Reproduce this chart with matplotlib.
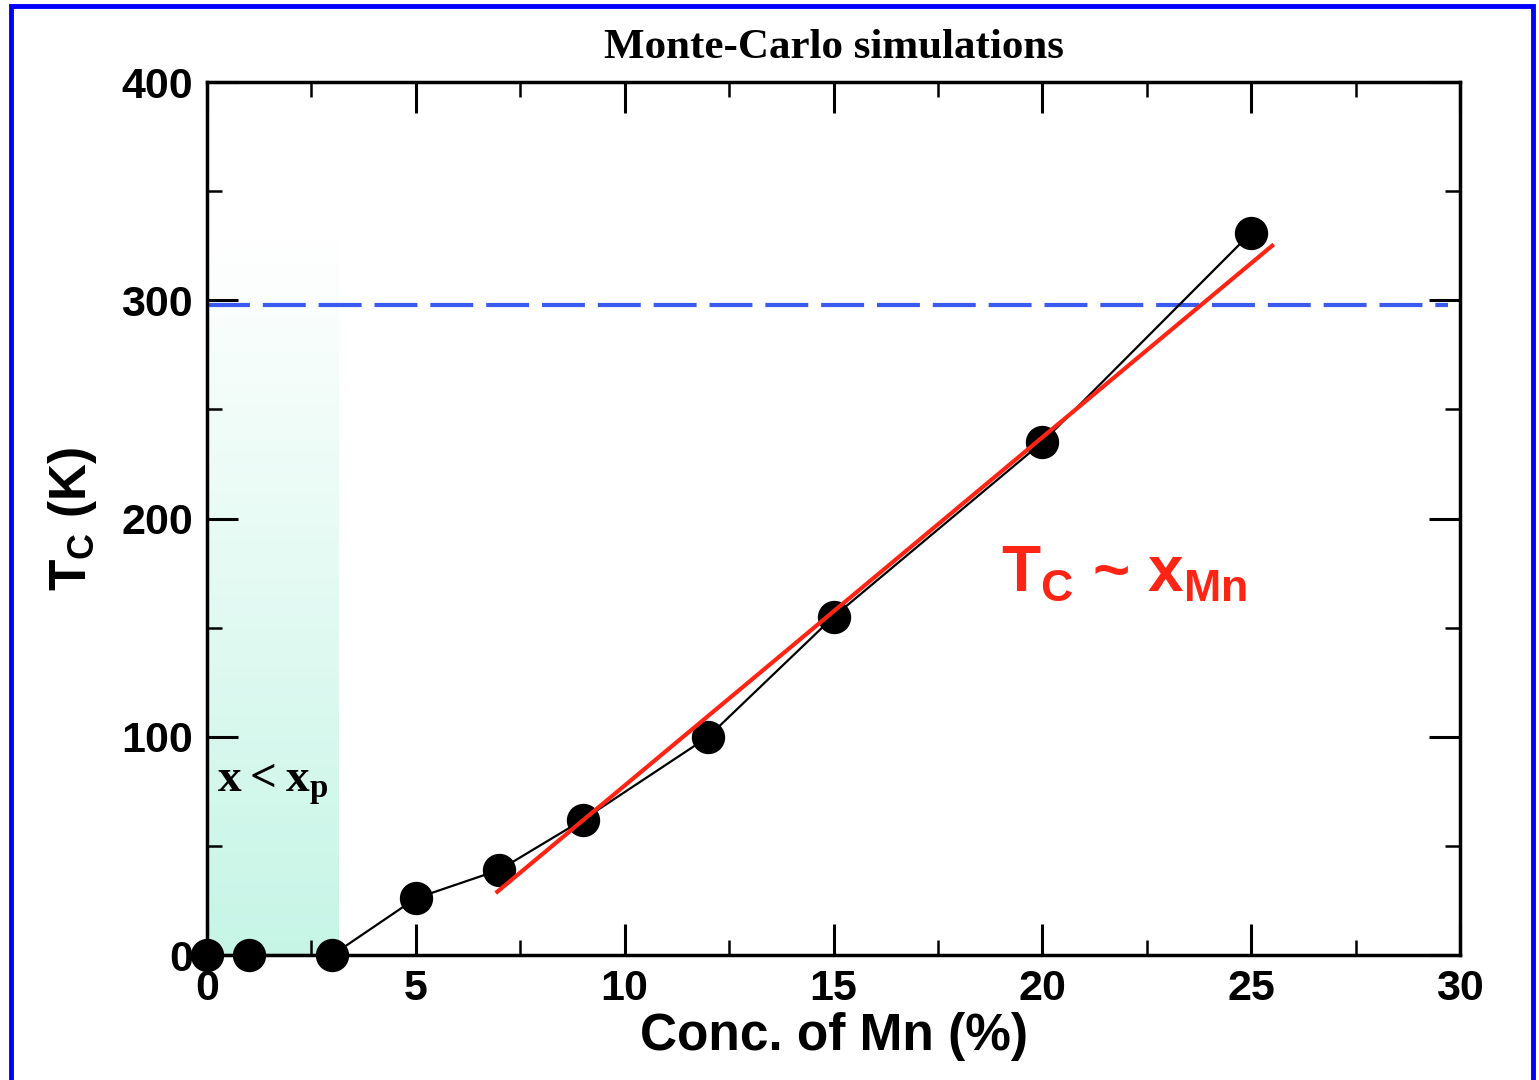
import matplotlib.pyplot as plt
import numpy as np
from matplotlib.colors import LinearSegmentedColormap
from matplotlib.patches import Rectangle

conc = [0, 1, 3, 5, 7, 9, 12, 15, 20, 25]
tc = [0, 0, 0, 26, 39, 62, 100, 155, 235, 331]

fit_x = [6.95, 25.5]
fit_y = [29, 325]

room_temp = 298
perc_x = 3.15
perc_top = 328

fig = plt.figure(figsize=(15.39, 10.8), dpi=100)
ax = fig.add_axes([0.1345, 0.1157, 0.8142, 0.8083])

# shaded region x < x_p with vertical gradient
cmap = LinearSegmentedColormap.from_list('shade', ['#c6f5e6', '#ffffff'])
grad = np.linspace(0, 1, 256).reshape(-1, 1)
ax.imshow(grad, cmap=cmap, origin='lower', aspect='auto',
          extent=[0, perc_x, 0, perc_top], zorder=0)

ax.axhline(room_temp, xmin=0, xmax=29.7 / 30, color='#3a5af0', lw=3,
           dashes=(10.3, 3.1), zorder=1)

ax.plot(conc, tc, color='black', lw=1.6, marker='o', markersize=23,
        clip_on=False, zorder=3)
ax.plot(fit_x, fit_y, color='#ff2414', lw=3, zorder=4)

ax.set_xlim(0, 30)
ax.set_ylim(0, 400)
ax.set_xticks(range(0, 31, 5))
ax.set_yticks(range(0, 401, 100))
ax.set_xticks(np.arange(2.5, 30, 5), minor=True)
ax.set_yticks(range(50, 400, 100), minor=True)
ax.tick_params(which='both', direction='in', top=True, right=True)
ax.tick_params(which='major', length=22, width=2.2, pad=10,
               labelsize=31)
ax.tick_params(which='minor', length=11, width=1.8)
for lab in ax.get_xticklabels() + ax.get_yticklabels():
    lab.set_fontfamily('Liberation Sans')
    lab.set_fontweight('bold')
for sp in ax.spines.values():
    sp.set_linewidth(2.5)

ax.set_xlabel('Conc. of Mn (%)', fontsize=37, fontweight='bold',
              family='Liberation Sans', labelpad=2)
ax.set_ylabel(r'$\mathregular{T_C}$ (K)', fontsize=37, fontweight='bold',
              family='Liberation Sans', labelpad=16)
ax.set_title('Monte-Carlo simulations', fontsize=31, fontweight='bold',
             family='Liberation Serif', pad=17)

ax.text(0.25, 74.7, r'$\mathregular{x < x_p}$', fontsize=34,
        fontweight='bold', family='Liberation Serif', va='baseline', ha='left')
ax.text(19, 167, r'$\mathregular{T_C}$ ~ $\mathregular{x_{Mn}}$', fontsize=46,
        fontweight='bold', family='Liberation Sans', color='#ff2414',
        va='baseline', ha='left')

fig.patches.append(Rectangle((10.5 / 1539, -0.02), 1522 / 1539,
                             1.02 - 6 / 1080, transform=fig.transFigure,
                             fill=False, edgecolor='#0000ff', lw=3.5))

fig.savefig('out.png', dpi=100)
